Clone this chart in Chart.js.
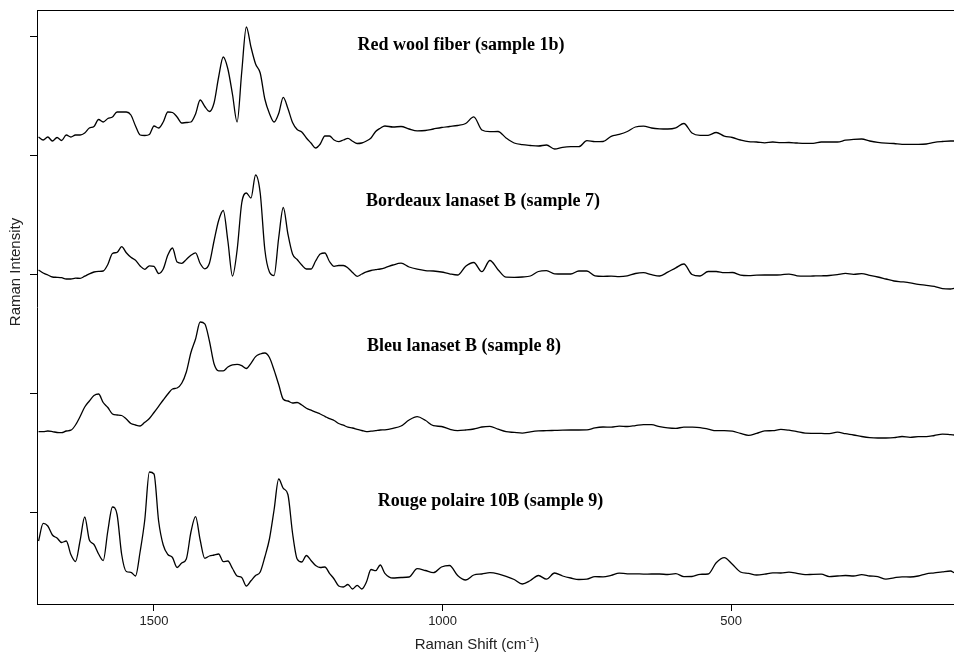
<!DOCTYPE html>
<html><head><meta charset="utf-8">
<script src="https://cdn.jsdelivr.net/npm/chart.js@4/dist/chart.umd.min.js"></script>
<style>html,body{margin:0;padding:0;background:#fff}</style>
</head><body>
<canvas id="c" width="954" height="652"></canvas>
<script>
// Raman shift grid (cm-1)
const ramanShift = [1700,1692,1684,1676,1668,1660,1652,1644,1636,1628,1620,1612,1604,1596,1588,1580,1572,1564,1556,1548,
1540,1532,1524,1516,1508,1500,1492,1484,1476,1468,1460,1452,1444,1436,1428,1420,1412,1404,1396,1388,
1380,1372,1364,1356,1348,1340,1332,1324,1316,1308,1300,1292,1284,1276,1268,1260,1252,1244,1236,1228,
1220,1212,1204,1196,1188,1180,1172,1164,1156,1148,1140,1132,1124,1116,1108,1100,
1086,1072,1058,1044,1030,1016,1002,988,974,960,946,932,918,904,890,876,862,848,834,820,
806,792,778,764,750,736,722,708,694,680,666,652,638,624,610,596,582,568,554,540,
526,512,498,484,470,456,442,428,414,400,386,372,358,344,330,316,302,288,274,260,
246,232,218,204,190,176,162,148,134,120,114];

const redWool = [13,10,13,9,12.5,9.5,15,13,15,15,
17,22,23.5,30.5,28,31.5,33,38,38,38,
35,24,15,14.5,15.5,24,22,28,38,37.5,
33,27,27.5,28,36,50,43.5,38.5,47,73,
93,81,55.5,28,78,123,103,86,77,51,
36.5,28,36.5,52.7,41.5,27.5,20.5,18,12,7,
2,6,14,14,10,8.3,10,11.7,8.8,6.5,
7,9,12,18.5,21.8,24,
23,23.5,21,19.2,19.5,21,22.5,23.5,24.5,26.5,
33.2,20,18.3,18.5,12,7,5.3,4.5,4,5,
1,2.7,3.3,3.3,9.3,8.3,8.5,13.7,15.6,18.5,
23,23.8,22,21.2,21,22.2,26.5,17,14.7,14.7,
17.5,13.9,12.5,10,8.3,8,7.2,8,7.4,7.5,
7,6.7,6.7,8,8,8,9.8,10.7,11,9,
7.6,6.8,6.5,5.7,5.7,5.7,6,7.7,8.5,9,9];

const bordeauxLanaset = [20,17,15,13,12.7,12.3,11,11,11.8,11.7,
13.8,16.2,18,18.6,19,25.5,36.5,37.6,43.3,37.3,
32.7,29.7,24,20.7,24.2,23.7,16.5,21,35,42,
28,26.7,30.6,34.7,37.2,26.5,21.2,26.7,49,69.5,
79.5,49,14,40,87,97,92,115,97,40.5,
18,14.5,52,82.5,56,36,30.5,25,21,21,
29,36,37,28.5,23.7,24.5,24.5,22,17.5,13.7,
16,18.2,19.5,20.3,21,22.2,
25,26.8,23,20.8,19.4,19,18,16.2,15,23.8,
27.5,18.3,29.5,20.3,12.8,12.7,13,14,18.5,19.4,
16.2,16,16,19,19,14.2,13.7,13.8,13.4,14.2,
16.5,17.3,15.3,14,17.8,22.2,26,15.5,14,18.5,
18.5,17.3,17.5,14.9,14.4,14.8,15,15,15.2,15.9,
14.2,13.8,14,14.2,14.5,15.4,16.6,15.7,16.3,14.7,
13,11,9,8.2,7.2,5.6,4.7,3.6,1.3,1,1.7];

const bleuLanaset = [8.3,8.3,9,8.4,7.5,7.3,9,9.8,15,23.5,
33,39,44.5,46,37.5,32.5,26,25,24.5,21,
16.5,15,14,17.7,21.5,27.5,33.7,40,46,51,
52,56.7,68,87.5,101,118,116.2,99,76.3,69.2,
69.2,73,75.2,75.6,74.3,71.5,76.7,83.4,86,87,
82.5,70,55.5,40.7,39,37,37.5,35,31.8,29.8,
27.8,26,23.7,21.3,19.5,16.5,14.8,12.8,12,10.7,
9.5,8.3,8.8,9.4,10,10.2,
11.7,14,20,23.3,19.7,14.3,13.5,10.8,9.4,10,
11,13,13.6,10.8,8.3,7.6,6.9,8.2,9.1,9.3,
9.6,9.9,10,10,10.1,12.2,13,12.9,13.9,13.5,
14.4,15.4,15.3,13.4,12.1,11.6,12.9,12.8,12.3,10.9,
9.3,9.3,8.8,6.6,4.7,6.7,9.1,9.3,10.6,9.8,
8.4,6.9,6.7,6.6,6.3,7.8,6.3,5,3.5,2.4,
2,2,2.3,3.5,2.7,3.3,3.3,4.5,5.9,5.3,5];

const rougePolaire = [54,71.7,69,60,57,52.5,54,40.5,33.5,54.5,
78,55,50.5,41,34.5,64,88,80.5,40.5,23.5,
22.7,19,43.5,75,123,121,74,50,40.5,37.5,
27.5,32,36,63,78.3,55,36.7,39,40,41,
33.3,34,26.5,19,17.5,9,14.2,19.5,23,38,
56,85,116,106.7,100.5,62,36,33,39.5,34.5,
29.5,27.5,28,21.7,16,9,8,10.5,6,9.7,
6,13,25.5,24.3,30,21.7,
17,17.5,18,26.3,24.5,22.3,28,29.5,19.5,15,
20,21,22.3,21.2,18.7,15.5,11,14.5,19.5,15.8,
22,19,17,15.5,15.8,18.3,18.2,19.7,21.9,21.2,
21.2,20.9,21,21,20.5,21.3,18.4,18.5,20.7,21,
32.2,37.4,30.7,23,21.6,20,20.8,22.1,22,22.8,
21.7,20.3,20.7,20.8,18.4,19,19.5,19,20.3,19,
18.4,15.9,17.2,18.2,18,19,21.2,22.1,23.2,24,22.3];

const sampleNames = ['Red wool fiber (sample 1b)','Bordeaux lanaset B (sample 7)','Bleu lanaset B (sample 8)','Rouge polaire 10B (sample 9)'];
const stackOffsets = [454, 314, 164, 9];
const xTickValues = [1500, 1000, 500];
const yTickValues = [92, 210.75, 329.5, 448.25, 567];

const spectra = [redWool, bordeauxLanaset, bleuLanaset, rougePolaire];

// label anchor placement (in axis units)
const labelAnchors = [{x: 968, y: 558.5}, {x: 930, y: 403}, {x: 963, y: 258}, {x: 917, y: 102.5}];

const datasets = spectra.map((s, i) => ({
  label: sampleNames[i],
  data: ramanShift.map((w, k) => ({x: w, y: stackOffsets[i] + s[k]})),
  borderColor: '#000',
  borderWidth: 1.3,
  pointRadius: 0,
  cubicInterpolationMode: 'monotone',
  fill: false
}));

const textPlugin = {
  id: 'texts',
  afterDraw(chart) {
    const ctx = chart.ctx;
    const xs = chart.scales.x, ys = chart.scales.y;
    ctx.save();
    ctx.fillStyle = '#000';
    ctx.font = 'bold 18px "Liberation Serif", "Times New Roman", serif';
    ctx.textAlign = 'center';
    ctx.textBaseline = 'middle';
    sampleNames.forEach((n, i) => {
      ctx.fillText(n, xs.getPixelForValue(labelAnchors[i].x), ys.getPixelForValue(labelAnchors[i].y));
    });
    // y title
    ctx.font = '15px "Liberation Sans", Arial, sans-serif';
    ctx.fillStyle = '#222';
    ctx.save();
    ctx.translate(16, 272);
    ctx.rotate(-Math.PI / 2);
    ctx.fillText('Raman Intensity', 0, 0);
    ctx.restore();
    // x title with superscript
    const main = 'Raman Shift (cm', sup = '-1', close = ')';
    ctx.font = '15px "Liberation Sans", Arial, sans-serif';
    const w1 = ctx.measureText(main).width;
    const w3 = ctx.measureText(close).width;
    ctx.font = '9px "Liberation Sans", Arial, sans-serif';
    const w2 = ctx.measureText(sup).width;
    const total = w1 + w2 + w3;
    let x0 = 477 - total / 2;
    const yb = 649;
    ctx.textAlign = 'left';
    ctx.textBaseline = 'alphabetic';
    ctx.font = '15px "Liberation Sans", Arial, sans-serif';
    ctx.fillText(main, x0, yb);
    ctx.font = '9px "Liberation Sans", Arial, sans-serif';
    ctx.fillText(sup, x0 + w1, yb - 6);
    ctx.font = '15px "Liberation Sans", Arial, sans-serif';
    ctx.fillText(close, x0 + w1 + w2, yb);
    ctx.restore();
  }
};

new Chart(document.getElementById('c'), {
  type: 'line',
  data: { datasets },
  options: {
    responsive: false,
    animation: false,
    devicePixelRatio: 1,
    layout: { padding: 0 },
    plugins: { legend: { display: false }, tooltip: { enabled: false } },
    scales: {
      x: {
        type: 'linear', position: 'bottom', reverse: true, min: 114, max: 1702.7,
        afterBuildTicks: s => { s.ticks = xTickValues.map(v => ({value: v})); },
        afterFit: s => { s.height = 48; },
        ticks: { color: '#222', font: { family: '"Liberation Sans", Arial, sans-serif', size: 13 }, padding: 3, maxRotation: 0, callback: v => String(v) },
        grid: { drawOnChartArea: false, drawTicks: true, tickLength: 7, color: '#000', lineWidth: 1 },
        border: { display: true, color: '#000', width: 1 }
      },
      x2: {
        type: 'linear', position: 'top', reverse: true, min: 114, max: 1702.7,
        afterFit: s => { s.height = 10; },
        ticks: { display: false },
        grid: { display: false },
        border: { display: true, color: '#000', width: 1 }
      },
      y: {
        type: 'linear', position: 'left', min: 0, max: 594,
        afterBuildTicks: s => { s.ticks = yTickValues.map(v => ({value: v})); },
        afterFit: s => { s.width = 37; },
        ticks: { callback: () => '', padding: 0 },
        grid: { drawOnChartArea: false, drawTicks: true, tickLength: 7, color: '#000', lineWidth: 1 },
        border: { display: true, color: '#000', width: 1 }
      }
    }
  },
  plugins: [textPlugin]
});
</script>
</body></html>
